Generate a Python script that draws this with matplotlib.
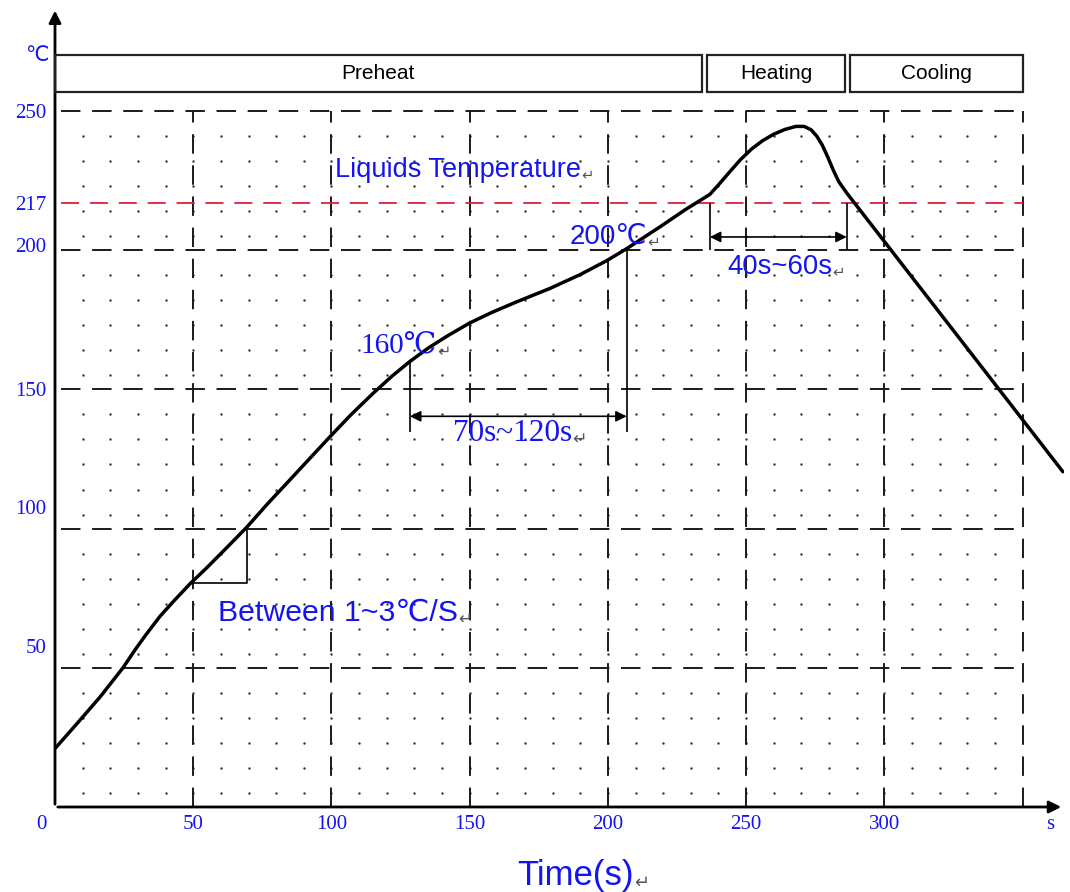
import numpy as np
import matplotlib.pyplot as plt
import matplotlib.transforms as mtransforms
from matplotlib.patches import Rectangle

# reflow profile (time in s, temperature in C)
time_s = [0, 8, 16.3, 24.6, 29, 33, 38, 43, 49, 55, 62, 69.4, 77, 85, 92, 99.5,
          107, 115, 122, 128.4, 135, 142, 150, 158, 167, 179, 190, 199.6, 206.8,
          218.8, 228, 236.9, 240, 244, 248, 252, 256, 260, 264, 268, 271, 273.5,
          275.5, 277.5, 279.5, 281.5, 283.5, 286.4, 300, 320, 340, 364.6]
temp_c = [21, 30, 39.5, 50, 56.5, 62, 68.5, 74, 80.3, 86, 93, 100.5, 109, 117.5, 125, 133,
          140.8, 148.5, 154.8, 160, 164.8, 169.2, 173.8, 177.6, 181.4, 186.2, 191.2, 196.2, 200.5,
          208.3, 214.5, 220, 223.4, 228, 232.5, 236.3, 239.3, 241.6, 243.3, 244.4, 244.4, 243.2,
          241, 237.8, 233.5, 228.8, 224.6, 220.5, 203.1, 177.5, 151.9, 120.4]

x_ticks = [0, 50, 100, 150, 200, 250, 300, 360]
x_labels = ['0', '50', '100', '150', '200', '250', '300', 's']
y_ticks = [50, 100, 150, 200, 217, 250]
y_labels = ['50', '100', '150', '200', '217', '250']
y_label_shift = [22, 22, 0, 5, 0, 0]  # px, labels sit above some lines in the original

grid_x = [50, 100, 150, 200, 250, 300, 350]
grid_y = [50, 100, 150, 200, 250]
liquidus = 217

phase_names = ['Preheat', 'Heating', 'Cooling']
phase_start = [0, 236, 287.6]
phase_end = [234, 285.6, 350]

slope_t = [49, 69.4]
slope_T = [80.4, 101]
soak_t = [128.4, 206.8]
soak_T = [160, 200.7]
reflow_t = [236.9, 286.4]

blue = '#1414f0'
sans = ['Liberation Sans', 'DejaVu Sans']
serif = ['Liberation Serif', 'DejaVu Serif']

fig = plt.figure(figsize=(10.7, 8.92), dpi=100)
ax = fig.add_axes([55/1070, 85/892, 1009/1070, 802/892])
ax.set_xlim(0, 365)
ax.set_ylim(0, 288)
for s in ax.spines.values():
    s.set_visible(False)

# dotted background
rows = np.concatenate([k*50 + np.array([5, 14, 23, 32, 41]) for k in range(5)])
gx, gy = np.meshgrid(np.arange(10, 350, 10), rows)
ax.scatter(gx.ravel(), gy.ravel(), s=3, color='#333333', linewidths=0, zorder=1)

# dashed grid
dash = (0, (10, 6))
ax.vlines(grid_x, 0, 250, colors='#1a1a1a', linestyles=[dash], lw=1.4, zorder=2)
ax.hlines(grid_y, 2, 350, colors='#1a1a1a', linestyles=[dash], lw=1.4, zorder=2)
ax.hlines(liquidus, 2, 350, colors='#e0203c', linestyles=[dash], lw=1.3, zorder=2)

# axes with arrows
ax.annotate('', xy=(365, 0), xytext=(0, 0), annotation_clip=False,
            arrowprops=dict(arrowstyle='-|>', lw=2, color='black', mutation_scale=18))
ax.annotate('', xy=(0, 287), xytext=(0, 0), annotation_clip=False,
            arrowprops=dict(arrowstyle='-|>', lw=2, color='black', mutation_scale=18))

# phase boxes
for name, a, b in zip(phase_names, phase_start, phase_end):
    ax.add_patch(Rectangle((a, 256.7), b - a, 13.3, fill=False, lw=1.6,
                           edgecolor='#222222', clip_on=False, zorder=3))
    ax.text((a + b) / 2, 263.3, name, ha='center', va='center', fontsize=15,
            family=sans, color='black')

# profile curve
ax.plot(time_s, temp_c, color='black', lw=2.5, zorder=5,
        solid_joinstyle='round', solid_capstyle='round')

# slope triangle
ax.plot([slope_t[0], slope_t[1], slope_t[1]], [slope_T[0], slope_T[0], slope_T[1]],
        color='black', lw=1.2, zorder=4)

# soak window
ax.vlines(soak_t, 134.6, soak_T, colors='black', lw=1.2, zorder=4)
ax.annotate('', xy=(soak_t[0], 140.3), xytext=(soak_t[1], 140.3),
            arrowprops=dict(arrowstyle='<|-|>', lw=1.2, color='black', mutation_scale=16,
                            shrinkA=0, shrinkB=0))

# time above liquidus
ax.vlines(reflow_t, 200, liquidus, colors='black', lw=1.2, zorder=4)
ax.annotate('', xy=(reflow_t[0], 204.7), xytext=(reflow_t[1], 204.7),
            arrowprops=dict(arrowstyle='<|-|>', lw=1.2, color='black', mutation_scale=16,
                            shrinkA=0, shrinkB=0))


def note(x, y, s, fam, size, ha):
    t = ax.text(x, y, s, ha=ha, va='center', fontsize=size, family=fam, color=blue, zorder=6)
    ax.annotate('\u21b5', xy=(1, 0.3), xycoords=t, va='center', fontsize=size*0.55,
                family='DejaVu Sans', color='#555555')
    return t


note(101.3, 228.7, 'Liquids Temperature', sans, 19.5, 'left')
note(138.2, 165.2, '160\u2103', serif, 21, 'right')
note(214.1, 204.7, '200\u2103', sans, 20, 'right')
note(165.6, 134.3, '70s~120s', serif, 22.5, 'center')
note(262.2, 193.9, '40s~60s', sans, 19.8, 'center')
note(59, 69.7, 'Between 1~3\u2103/S', sans, 21.8, 'left')

# ticks
ax.set_xticks(x_ticks)
ax.set_xticklabels(x_labels, family=serif, fontsize=15, color=blue)
ax.set_yticks(y_ticks)
ax.set_yticklabels(y_labels, family=serif, fontsize=15, color=blue)
ax.tick_params(length=0, pad=6)
for lab, dy in zip(ax.get_yticklabels(), y_label_shift):
    lab.set_transform(lab.get_transform() +
                      mtransforms.ScaledTranslation(0, dy / 100, fig.dpi_scale_trans))
zero = ax.get_xticklabels()[0]
zero.set_transform(zero.get_transform() +
                   mtransforms.ScaledTranslation(-0.14, 0, fig.dpi_scale_trans))

ax.annotate('\u2103', xy=(0, 270), xytext=(-5, 0), textcoords='offset points',
            ha='right', va='center', fontsize=15, family=sans, color=blue,
            annotation_clip=False)

t = fig.text(576/1070, 1 - 875/892, 'Time(s)', ha='center', va='center',
             fontsize=25, family=sans, color=blue)
ax.annotate('\u21b5', xy=(1, 0.25), xycoords=t, va='center', fontsize=13,
            family='DejaVu Sans', color='#555555')

fig.savefig('out.png', dpi=100)
